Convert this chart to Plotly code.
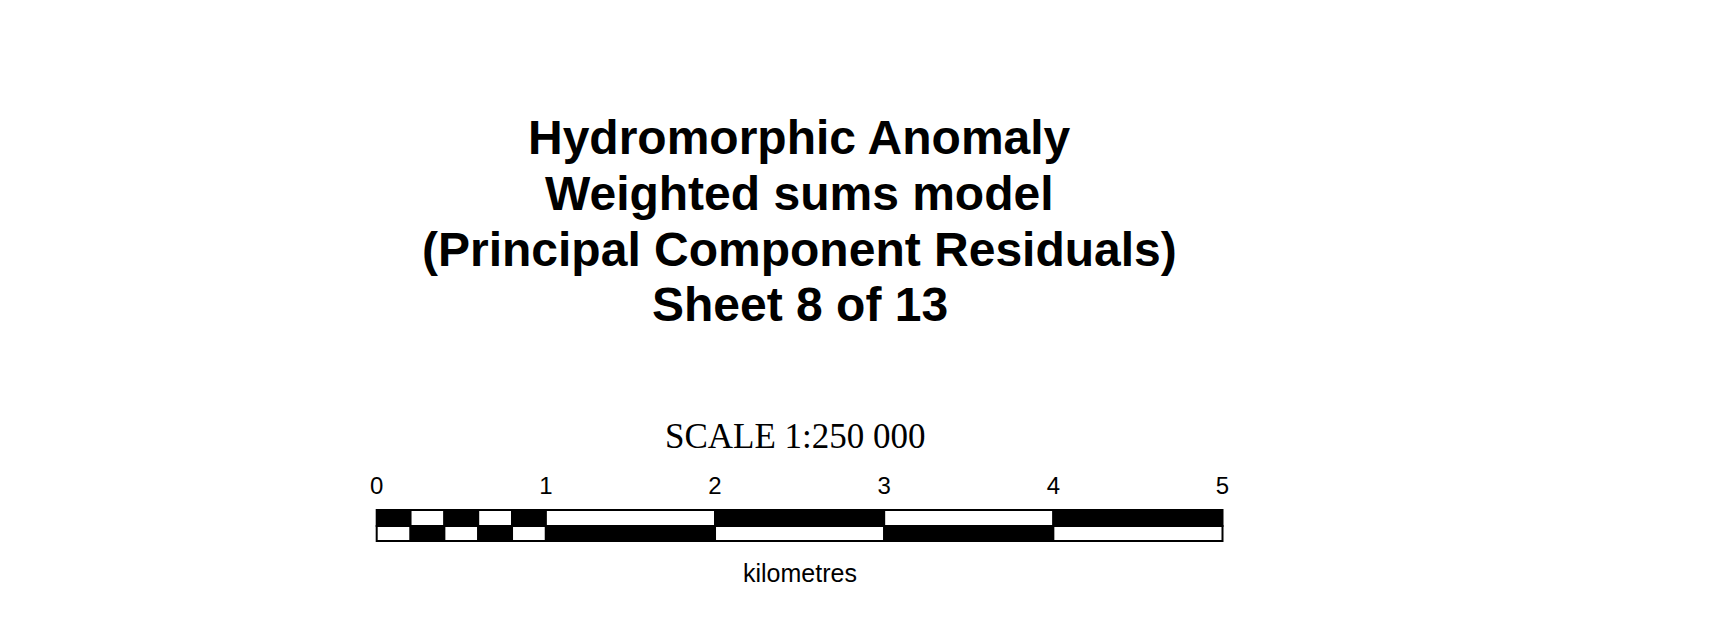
import plotly.graph_objects as go

# ---- data ----
title_lines = ["Hydromorphic Anomaly", "Weighted sums model",
               "(Principal Component Residuals)", "Sheet 8 of 13"]
scale_text = "SCALE 1:250 000"
unit_label = "kilometres"
seg_edges_km = [0, 0.2, 0.4, 0.6, 0.8, 1, 2, 3, 4, 5]
top_row_fill = ["black", "white", "black", "white", "black", "white", "black", "white", "black"]
bottom_row_fill = ["white", "black", "white", "black", "white", "black", "white", "black", "white"]
tick_km = [0, 1, 2, 3, 4, 5]
tick_labels = ["0", "1", "2", "3", "4", "5"]

# page is rendered with the browser's default 8px body margin
OFF = 8
W, H = 1711 - 2 * OFF, 619 - 2 * OFF

def py(page_y):
    return page_y - OFF

bar_top, bar_mid, bar_bot = py(510.0), py(526.0), py(541.0)
px0, px_per_km = 376.7 - OFF, 169.16

starts = seg_edges_km[:-1]
widths = [b - a for a, b in zip(seg_edges_km[:-1], seg_edges_km[1:])]

fig = go.Figure()
for fills, (y0, y1) in [(top_row_fill, (bar_top, bar_mid)), (bottom_row_fill, (bar_mid, bar_bot))]:
    fig.add_trace(go.Bar(
        orientation="h",
        base=starts,
        x=widths,
        y=[(y0 + y1) / 2] * len(widths),
        width=[y1 - y0] * len(widths),
        marker=dict(color=fills, line=dict(color="black", width=2)),
        hoverinfo="skip",
        showlegend=False,
    ))

fig.add_trace(go.Scatter(
    x=tick_km, y=[py(488.0)] * len(tick_km), mode="text", text=tick_labels,
    textposition="middle center",
    textfont=dict(family="Liberation Sans, Arial, sans-serif", size=24, color="black"),
    hoverinfo="skip", showlegend=False,
))

annotations = []
title_baselines = [155.2, 210.8, 266.4, 322.0]
for line, base in zip(title_lines, title_baselines):
    annotations.append(dict(
        text="<b>" + line + "</b>", x=2.5, xref="x", y=py(base - 0.36 * 48), yref="y",
        xanchor="center", yanchor="middle", showarrow=False,
        font=dict(family="Liberation Sans, Arial, sans-serif", size=48, color="black"),
    ))
annotations.append(dict(
    text=scale_text, x=2.473, xref="x", y=py(436.4), yref="y",
    xanchor="center", yanchor="middle", showarrow=False,
    font=dict(family="Liberation Serif, Times New Roman, serif", size=35, color="black"),
))
annotations.append(dict(
    text=unit_label, x=2.5, xref="x", y=py(573.0), yref="y",
    xanchor="center", yanchor="middle", showarrow=False,
    font=dict(family="Liberation Sans, Arial, sans-serif", size=25, color="black"),
))

r0 = -px0 / px_per_km
fig.update_layout(
    width=W, height=H,
    margin=dict(l=0, r=0, t=0, b=0),
    paper_bgcolor="white", plot_bgcolor="white",
    barmode="overlay",
    xaxis=dict(range=[r0, r0 + W / px_per_km], visible=False, fixedrange=True),
    yaxis=dict(range=[H, 0], visible=False, fixedrange=True),
    annotations=annotations,
    showlegend=False,
)

fig.write_html("out.html", config={"displayModeBar": False})
